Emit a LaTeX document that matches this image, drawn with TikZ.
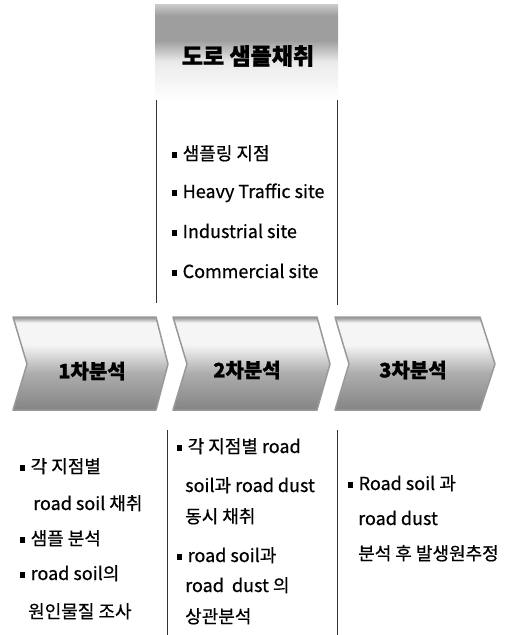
\documentclass[tikz,border=0pt]{standalone}
\usepackage{fontspec}
\setmainfont{Noto Sans CJK KR}
\newfontfamily\lstfont{Noto Sans CJK KR}[FakeBold=0.6]
\newfontfamily\heavyfont{Noto Sans CJK KR}[FakeBold=1.2]
\definecolor{tA}{gray}{0.80}
\definecolor{tB}{gray}{0.92}
\definecolor{tC}{gray}{0.62}
\definecolor{cD}{gray}{0.52}
\definecolor{cE}{gray}{0.68}
\definecolor{cF}{gray}{0.96}
\definecolor{cG}{gray}{0.55}
\definecolor{cB}{gray}{0.60}
\pgfdeclareverticalshading{titleshade}{100bp}{color(0bp)=(white); color(25bp)=(white); color(45bp)=(tB); color(56bp)=(tC); color(69bp)=(tC); color(75bp)=(tA); color(100bp)=(tA)}
\pgfdeclareverticalshading{chevshade}{100bp}{color(0bp)=(cD); color(25bp)=(cD); color(45bp)=(cE); color(60bp)=(cF); color(72bp)=(cF); color(75bp)=(cG); color(100bp)=(cG)}
\newcommand{\bsq}{\rule[2pt]{4.5pt}{6pt}\hspace{6pt}}
\tikzset{
  listitem/.style={anchor=west, inner sep=0pt, text height=13pt, text depth=3pt, font=\lstfont\fontsize{18}{21}\selectfont},
  chevtext/.style={inner sep=0pt, font=\heavyfont\bfseries\fontsize{20}{24}\selectfont},
  chev/.style={shading=chevshade, draw=cB, line width=1.5pt, line join=round},
  sepline/.style={draw=black!80, line width=0.8pt}
}
\begin{document}
\begin{tikzpicture}[x=1pt,y=-1pt]
\useasboundingbox (0,0) rectangle (517,635);
% title box
\shade[shading=titleshade] (155,4) rectangle (338,100);
\node[inner sep=0pt, font=\heavyfont\bfseries\fontsize{23}{27}\selectfont] (title) at (248,56) {도로 샘플채취};
% separator lines upper
\coordinate (ua1) at (156,100); \coordinate (ua2) at (156,303);
\coordinate (ub1) at (337,100); \coordinate (ub2) at (337,305);
\draw[sepline] (ua1) -- (ua2);
\draw[sepline] (ub1) -- (ub2);
% top list
\node[listitem] (t1) at (172,155) {\bsq 샘플링 지점};
\node[listitem] (t2) at (172,193) {\bsq Heavy Traffic site};
\node[listitem] (t3) at (172,233) {\bsq Industrial site};
\node[listitem] (t4) at (172,273) {\bsq Commercial site};
% chevrons
\path[chev] (13,317) -- (156,317) -- (168,364) -- (156,410) -- (13,410) -- (27,364) -- cycle;
\path[chev] (173,317) -- (317,317) -- (330,364) -- (317,410) -- (173,410) -- (187,364) -- cycle;
\path[chev] (335,317) -- (480,317) -- (495,364) -- (480,410) -- (335,410) -- (349,364) -- cycle;
\node[chevtext] (c1) at (92,371) {1차분석};
\node[chevtext] (c2) at (247,370) {2차분석};
\node[chevtext] (c3) at (413,370) {3차분석};
% separator lines lower
\coordinate (la1) at (167,430); \coordinate (la2) at (167,635);
\coordinate (lb1) at (337,430); \coordinate (lb2) at (337,635);
\draw[sepline] (la1) -- (la2);
\draw[sepline] (lb1) -- (lb2);
% column 1
\node[listitem] (a1) at (20,468) {\bsq 각 지점별};
\node[listitem] (a2) at (33,505) {road soil 채취};
\node[listitem] (a3) at (20,540) {\bsq 샘플 분석};
\node[listitem] (a4) at (20,575) {\bsq road soil의};
\node[listitem] (a5) at (28,613) {원인물질 조사};
% column 2
\node[listitem] (b1) at (177,448) {\bsq 각 지점별 road};
\node[listitem] (b2) at (185,487) {soil과 road dust};
\node[listitem] (b3) at (185,518) {동시 채취};
\node[listitem] (b4) at (177,557) {\bsq road soil과};
\node[listitem] (b5) at (185,587) {road\ \ dust 의};
\node[listitem] (b6) at (185,618) {상관분석};
% column 3
\node[listitem] (d1) at (348,485) {\bsq Road soil 과};
\node[listitem] (d2) at (358,520) {road dust};
\node[listitem] (d3) at (358,555) {분석 후 발생원추정};
\end{tikzpicture}
\end{document}
